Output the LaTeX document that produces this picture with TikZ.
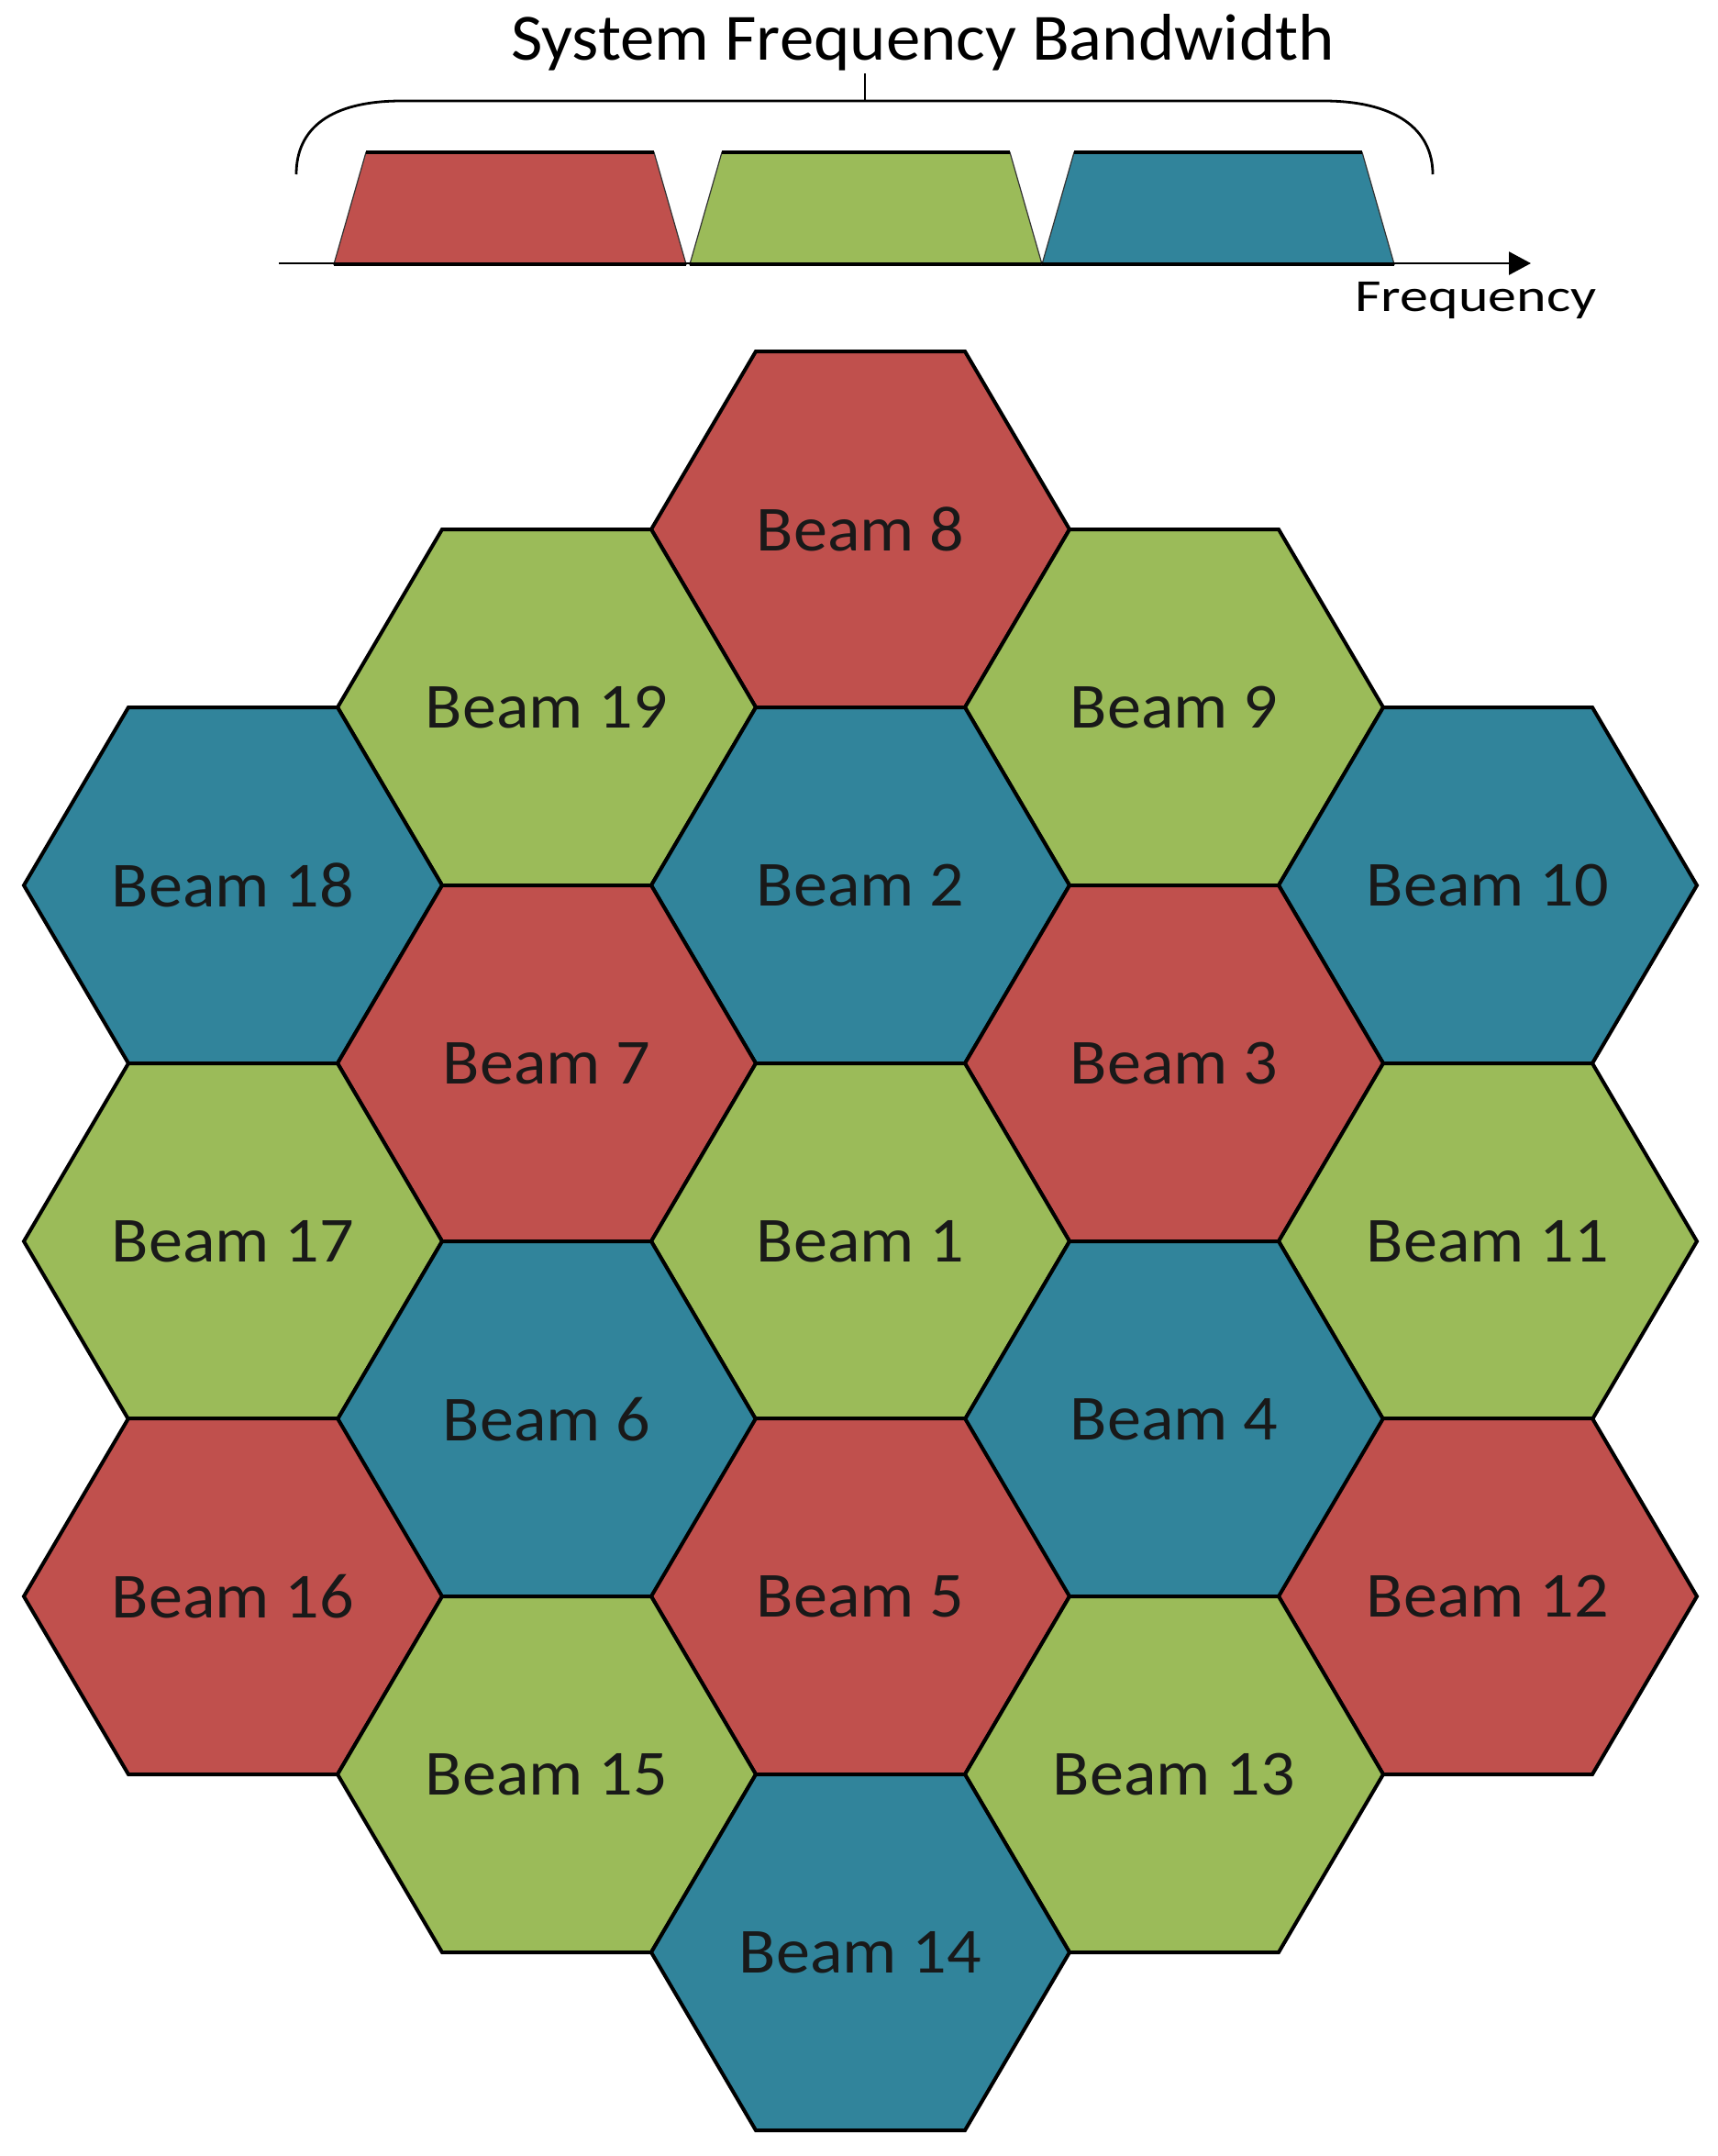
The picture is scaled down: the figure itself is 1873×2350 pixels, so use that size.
\documentclass[tikz,border=0pt]{standalone}
\usepackage{fontspec}
\setmainfont{Carlito}
\usetikzlibrary{arrows.meta}
\definecolor{bred}{RGB}{192,80,77}
\definecolor{bgreen}{RGB}{155,187,89}
\definecolor{bblue}{RGB}{49,132,155}
\newcommand{\hexbeam}[5]{%
  \filldraw[hexedge,fill=#4] (#2-228,#3) -- (#2-114,#3-194) -- (#2+114,#3-194) -- (#2+228,#3) -- (#2+114,#3+194) -- (#2-114,#3+194) -- cycle;
  \node[beamlabel] (#1) at (#2,#3) {#5};}
\newcommand{\band}[4]{%
  \filldraw[bandedge,fill=#4] (#2,288) -- (#2+35,166) -- (#3-35,166) -- (#3,288) -- cycle;
  \draw[line width=1.6pt] (#2+35,166) -- (#3-35,166);
  \draw[line width=2.2pt] (#2,288) -- (#3,288);
  \coordinate (#1) at ({(#2+#3)/2},227);}
\begin{document}
\begin{tikzpicture}[x=0.5pt,y=-0.5pt,
  hexedge/.style={draw=black,line width=2pt,line join=miter},
  bandedge/.style={draw=black!80,line width=0.6pt},
  beamlabel/.style={font=\fontsize{35pt}{40pt}\selectfont,text=black!90,inner sep=0pt,xscale=1.06},
  titlelabel/.style={font=\fontsize{36pt}{40pt}\selectfont,inner sep=0pt,anchor=base,xscale=1.04},
  freqlabel/.style={font=\fontsize{25pt}{28pt}\selectfont,inner sep=0pt,anchor=base west,xscale=1.24}]
\useasboundingbox (0,0) rectangle (1873,2350);
% top spectrum
\band{b1}{364}{748}{bred}
\band{b2}{752}{1136}{bgreen}
\band{b3}{1136}{1520}{bblue}
\coordinate (axs) at (304,287);
\coordinate (axe) at (1669,287);
\draw[line width=1.4pt,-{Triangle[length=12pt,width=12.5pt]}] (axs) -- (axe);
\node[freqlabel] (freq) at (1477,339) {Frequency};
\coordinate (brl) at (323,190);
\coordinate (brr) at (1562,190);
\coordinate (brm) at (943,110);
\coordinate (brt) at (943,80);
\draw[line width=1.4pt] (brl) .. controls (323,140) and (360,110) .. (438,110) -- (1443,110) .. controls (1520,110) and (1562,140) .. (brr);
\draw[line width=1pt] (brm) -- (brt);
\node[titlelabel] (title) at (1006,65) {System Frequency Bandwidth};
% hexagons
\hexbeam{h8}{938}{577}{bred}{Beam 8}
\hexbeam{h19}{596}{771}{bgreen}{Beam 19}
\hexbeam{h9}{1280}{771}{bgreen}{Beam 9}
\hexbeam{h18}{254}{965}{bblue}{Beam 18}
\hexbeam{h2}{938}{965}{bblue}{Beam 2}
\hexbeam{h10}{1622}{965}{bblue}{Beam 10}
\hexbeam{h7}{596}{1159}{bred}{Beam 7}
\hexbeam{h3}{1280}{1159}{bred}{Beam 3}
\hexbeam{h17}{254}{1353}{bgreen}{Beam 17}
\hexbeam{h1}{938}{1353}{bgreen}{Beam 1}
\hexbeam{h11}{1622}{1353}{bgreen}{Beam 11}
\hexbeam{h6}{596}{1547}{bblue}{Beam 6}
\hexbeam{h4}{1280}{1547}{bblue}{Beam 4}
\hexbeam{h16}{254}{1740}{bred}{Beam 16}
\hexbeam{h5}{938}{1740}{bred}{Beam 5}
\hexbeam{h12}{1622}{1740}{bred}{Beam 12}
\hexbeam{h15}{596}{1934}{bgreen}{Beam 15}
\hexbeam{h13}{1280}{1934}{bgreen}{Beam 13}
\hexbeam{h14}{938}{2128}{bblue}{Beam 14}
\end{tikzpicture}
\end{document}
